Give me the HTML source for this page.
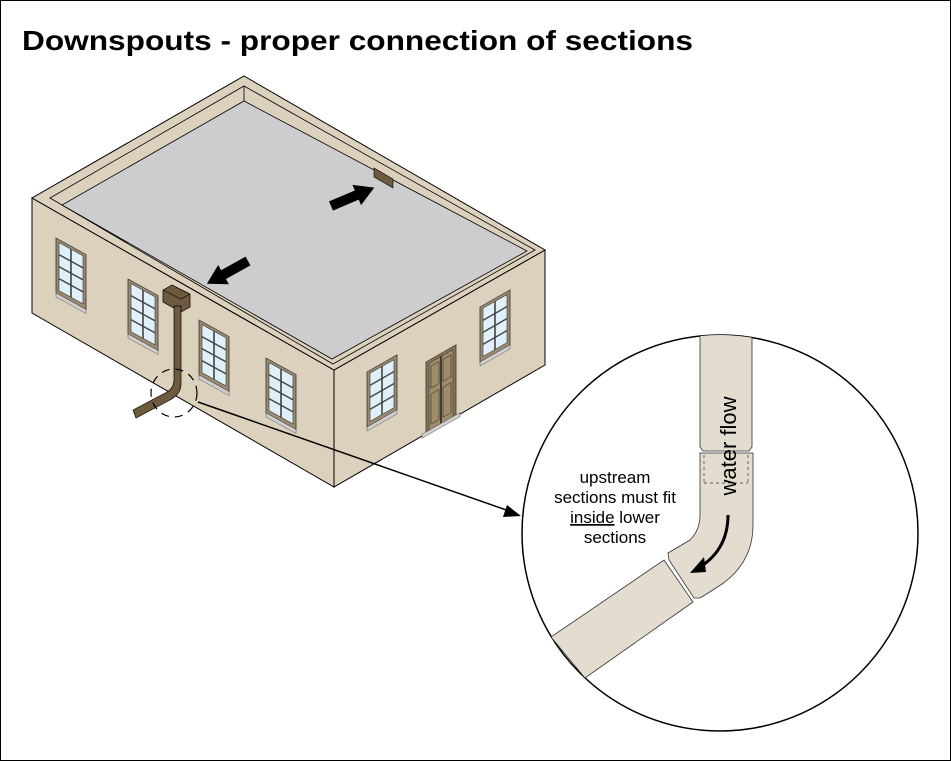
<!DOCTYPE html>
<html><head><style>body{margin:0;background:#fff}svg{display:block}</style></head><body>
<svg width="951" height="761" viewBox="0 0 951 761" xmlns="http://www.w3.org/2000/svg" font-family="Liberation Sans, Arial, sans-serif">
<defs>
<g id="win">
<rect x="0" y="0" width="30" height="55" fill="#9a8a70" stroke="#333" stroke-width="0.8"/>
<rect x="3" y="3" width="24" height="48" fill="#dff0f8" stroke="#333" stroke-width="0.6"/>
<line x1="15" y1="3" x2="15" y2="51" stroke="#444" stroke-width="1.6"/>
<line x1="3" y1="15" x2="27" y2="15" stroke="#444" stroke-width="1.6"/>
<line x1="3" y1="27" x2="27" y2="27" stroke="#444" stroke-width="1.6"/>
<line x1="3" y1="39" x2="27" y2="39" stroke="#444" stroke-width="1.6"/>
<rect x="0" y="55" width="30" height="4" fill="#cfcfcf" stroke="#555" stroke-width="0.5"/>
</g>
<clipPath id="cc"><circle cx="720" cy="533" r="198"/></clipPath>
</defs>
<rect x="0.5" y="0.5" width="950" height="760" fill="#fff" stroke="#000"/>
<text x="22" y="50" font-size="28" font-weight="bold" textLength="671" lengthAdjust="spacingAndGlyphs">Downspouts - proper connection of sections</text>

<!-- building -->
<polygon points="32,198 334,370 334,487 32,313" fill="#dcd1bd" stroke="#000" stroke-width="1"/>
<polygon points="334,370 545,250 545,365 334,487" fill="#dcd1bd" stroke="#000" stroke-width="1"/>
<polygon points="244,76 545,250 334,370 32,198" fill="#dcd1bd" stroke="#000" stroke-width="1"/>
<polygon points="244,86 535,250 333,364 50,198" fill="#dcd1bd" stroke="#000" stroke-width="0.8"/>
<polygon points="244,101 527,251 332,359 62,205" fill="#cdcdcf" stroke="#000" stroke-width="0.8"/>
<line x1="244" y1="86" x2="244" y2="101" stroke="#000" stroke-width="0.8"/>
<polygon points="374,168 393,179 393,188 374,177" fill="#6e5a3e" stroke="#000" stroke-width="0.6"/>
<!-- roof arrows -->
<polygon points="0,-5 28,-5 28,-11 47,0 28,11 28,5 0,5" fill="#000" transform="translate(331,206) rotate(-23)"/>
<polygon points="0,-5 28,-5 28,-11 47,0 28,11 28,5 0,5" fill="#000" transform="translate(248,261) rotate(151)"/>

<!-- left wall windows -->
<use href="#win" transform="matrix(1,0.55,0,1,56,238)"/>
<use href="#win" transform="matrix(1,0.55,0,1,128,279)"/>
<use href="#win" transform="matrix(1,0.55,0,1,199,320)"/>
<use href="#win" transform="matrix(1,0.55,0,1,266,358)"/>
<!-- right wall windows -->
<use href="#win" transform="matrix(1,-0.57,0,1,367,372)"/>
<use href="#win" transform="matrix(1,-0.57,0,1,480,307)"/>
<!-- door -->
<g transform="matrix(1,-0.57,0,1,426,362)">
<rect x="0" y="0" width="30" height="70" fill="#8c7454" stroke="#333" stroke-width="0.8"/>
<rect x="3" y="3" width="24" height="67" fill="#a08c6a" stroke="#333" stroke-width="0.6"/>
<line x1="15" y1="3" x2="15" y2="70" stroke="#222" stroke-width="1.5"/>
<rect x="5" y="7" width="8" height="22" fill="none" stroke="#333" stroke-width="0.6"/>
<rect x="17" y="7" width="8" height="22" fill="none" stroke="#333" stroke-width="0.6"/>
<rect x="5" y="35" width="8" height="30" fill="none" stroke="#333" stroke-width="0.6"/>
<rect x="17" y="35" width="8" height="30" fill="none" stroke="#333" stroke-width="0.6"/>
<rect x="-4" y="70" width="38" height="4" fill="#cfcfcf" stroke="#555" stroke-width="0.5"/>
</g>

<!-- downspout -->
<polygon points="163,290 172,285 190,294 190,307 181,312 163,302" fill="#6e5a3e" stroke="#000" stroke-width="0.7"/>
<polyline points="163,290 181,299 190,294 M181,299 181,312" fill="none" stroke="#000" stroke-width="0.6"/>
<path d="M174,306 L174,380 Q174,388 167,392 L133,410 L136,418 L170,400 Q181,394 181,384 L181,306 Z" fill="#6e5a3e" stroke="#000" stroke-width="0.7"/>
<ellipse cx="174" cy="393" rx="23" ry="24" fill="none" stroke="#000" stroke-width="1.2" stroke-dasharray="8,6"/>
<line x1="198" y1="402" x2="512" y2="512" stroke="#000" stroke-width="1.5"/>
<polygon points="521,516 507,505 503,517" fill="#000"/>

<!-- detail circle -->
<circle cx="720" cy="533" r="198" fill="#fff" stroke="#000" stroke-width="1.5"/>
<g clip-path="url(#cc)" fill="#e3dccf" stroke="#333" stroke-width="0.8">
<path d="M700,330 L700,447 L703,451 L749,451 L752,447 L752,330 Z"/>
<path d="M700,453 L700,515 Q700,530 690,540 L668,553 L669,560 L694,598 L700,598 Q710,592 722,584 Q753,562 753,525 L753,453 Z"/>
<polygon points="664,560 693,602 585,678 551,637"/>
</g>
<g stroke="#333" stroke-width="0.7" stroke-dasharray="3,3" fill="none">
<line x1="704" y1="455" x2="704" y2="483"/>
<line x1="748" y1="455" x2="748" y2="483"/>
<line x1="704" y1="483" x2="748" y2="483"/>
</g>
<text x="0" y="0" font-size="22" text-anchor="middle" transform="translate(736,446) rotate(-90)">water flow</text>
<path d="M728,515 Q728,552 695,570" fill="none" stroke="#000" stroke-width="3"/>
<polygon points="690,573 704,557 706,572" fill="#000"/>
<g font-size="17" text-anchor="middle">
<text x="615" y="483">upstream</text>
<text x="615" y="503">sections must fit</text>
<text x="615" y="523"><tspan text-decoration="underline">inside</tspan> lower</text>
<text x="615" y="543">sections</text>
</g>
</svg>
</body></html>
